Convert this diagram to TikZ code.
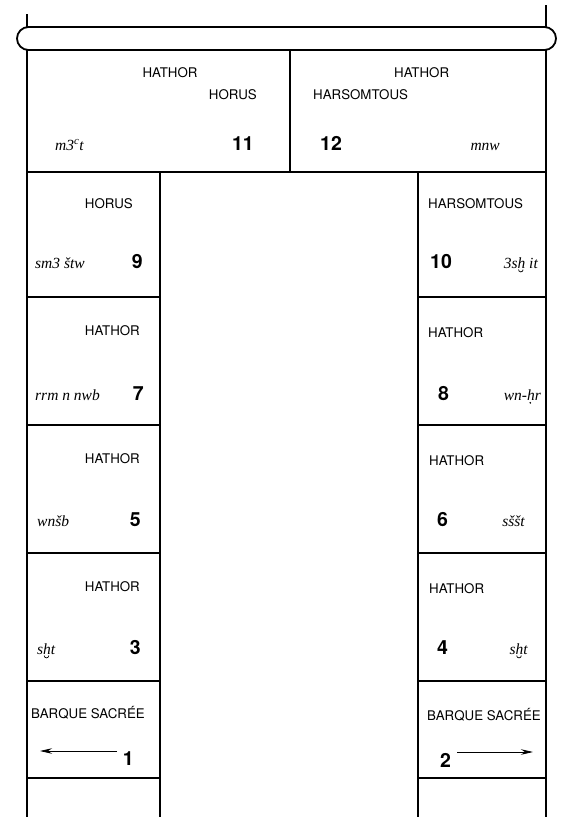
\documentclass[tikz,border=0pt]{standalone}
\usepackage{fontspec}
\setmainfont{Liberation Serif}
\newfontfamily\helv{TeX Gyre Heros}
\usetikzlibrary{arrows.meta}
\newlength\mybrx
\newcommand\ubr[1]{\leavevmode\setbox0\hbox{#1}\setlength\mybrx{0.42\wd0}\rlap{\tikz[baseline=0pt,x=1pt,y=1pt]{\useasboundingbox (0,0);\draw[line width=0.7pt] ($(\mybrx,-1.6)+(-2.3,0)$) arc[start angle=180,end angle=360,radius=2.3pt];}}\box0}
\newcommand\udt[1]{\leavevmode\setbox0\hbox{#1}\setlength\mybrx{0.42\wd0}\rlap{\tikz[baseline=0pt,x=1pt,y=1pt]{\useasboundingbox (0,0);\fill (\mybrx,-2.8) circle[radius=0.95pt];}}\box0}
\usetikzlibrary{calc}
\begin{document}
\begin{tikzpicture}[x=1pt,y=-1pt,
  frame/.style={line width=1.8pt},
  divline/.style={line width=1.1pt},
  lbl/.style={font=\helv\fontsize{13.3}{14}\selectfont, inner sep=0pt},
  num/.style={font=\helv\bfseries\fontsize{19.5}{20}\selectfont, inner sep=0pt},
  tr/.style={font=\itshape\fontsize{15.5}{16}\selectfont, inner sep=0pt},
  arr/.style={line width=0.8pt, -{Stealth[length=12pt,width=5.5pt]}},
]
\useasboundingbox (0,0) rectangle (569,817);
% top bar and stubs
\draw[frame, rounded corners=11.5pt] (17,27) rectangle (556,50);
\draw[frame] (27,14) -- (27,27);
\draw[frame] (546,5) -- (546,27);
% outer frame
\draw[frame] (27,50) -- (27,817);
\draw[frame] (546,50) -- (546,817);
% inner rectangle
\draw[frame] (160,817) -- (160,172) -- (418,172) -- (418,817);
% top row
\draw[divline] (290,50) -- (290,172);
\draw[divline] (27,172) -- (160,172);
\draw[divline] (418,172) -- (546,172);
\foreach \yy in {297,425,553,681,778}{
  \draw[divline] (27,\yy) -- (160,\yy);
  \draw[divline] (418,\yy) -- (546,\yy);
}
% top-left cell
\node[lbl, anchor=base] (a1) at (170,77) {HATHOR};
\node[lbl, anchor=base east] (a2) at (257,99) {HORUS};
\node[tr, anchor=base west] (a3) at (55,150) {m3\textsuperscript{c}t};
\node[num, anchor=base east] (n11) at (254,150) {11};
% top-right cell
\node[lbl, anchor=base west] (b1) at (394,77) {HATHOR};
\node[lbl, anchor=base west] (b2) at (313,99) {HARSOMTOUS};
\node[num, anchor=base west] (n12) at (320,150) {12};
\node[tr, anchor=base east] (b3) at (500,150) {mnw};
% left column
\node[lbl, anchor=base east] (c9) at (133,208) {HORUS};
\node[num, anchor=base east] (n9) at (143,268) {9};
\node[tr, anchor=base west] (d9) at (35,268) {sm3 štw};
\node[lbl, anchor=base east] (c7) at (140,335) {HATHOR};
\node[num, anchor=base east] (n7) at (144,400) {7};
\node[tr, anchor=base west] (d7) at (35,400) {rrm n nwb};
\node[lbl, anchor=base east] (c5) at (140,463) {HATHOR};
\node[num, anchor=base east] (n5) at (141,526) {5};
\node[tr, anchor=base west] (d5) at (37,526) {wnšb};
\node[lbl, anchor=base east] (c3) at (140,591) {HATHOR};
\node[num, anchor=base east] (n3) at (141,654) {3};
\node[tr, anchor=base west] (d3) at (37,654) {s\ubr{h}t};
\node[lbl, anchor=base] (c1) at (88,718) {BARQUE SACRÉE};
\node[num, anchor=base east] (n1) at (134,765) {1};
\coordinate (p1s) at (117,751);
\coordinate (p1e) at (40,751);
\draw[arr] (p1s) -- (p1e);
% right column
\node[lbl, anchor=base west] (c10) at (428,208) {HARSOMTOUS};
\node[num, anchor=base west] (n10) at (430,268) {10};
\node[tr, anchor=base east] (d10) at (538,268) {3s\ubr{h}\ it};
\node[lbl, anchor=base west] (c8) at (428,337) {HATHOR};
\node[num, anchor=base west] (n8) at (438,400) {8};
\node[tr, anchor=base east] (d8) at (541,400) {wn-\udt{h}r};
\node[lbl, anchor=base west] (c6) at (429,465) {HATHOR};
\node[num, anchor=base west] (n6) at (437,526) {6};
\node[tr, anchor=base east] (d6) at (525,526) {sššt};
\node[lbl, anchor=base west] (c4) at (429,593) {HATHOR};
\node[num, anchor=base west] (n4) at (437,654) {4};
\node[tr, anchor=base east] (d4) at (528,654) {s\ubr{h}t};
\node[lbl, anchor=base] (c2) at (484,720) {BARQUE SACRÉE};
\node[num, anchor=base west] (n2) at (440,767) {2};
\coordinate (p2s) at (457,752);
\coordinate (p2e) at (533,752);
\draw[arr] (p2s) -- (p2e);
\end{tikzpicture}
\end{document}
